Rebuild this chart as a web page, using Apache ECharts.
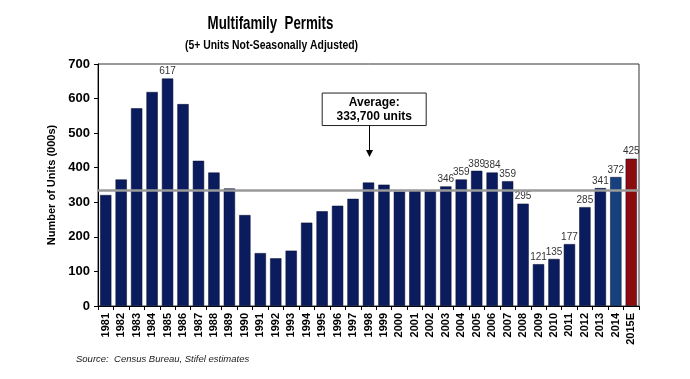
<!DOCTYPE html>
<html>
<head>
<meta charset="utf-8">
<script src="https://cdn.jsdelivr.net/npm/echarts@6/dist/echarts.min.js"></script>
<style>html,body{margin:0;padding:0;background:#fff;}#c{width:690px;height:379px;}</style>
</head>
<body>
<div id="c"></div>
<script>
const categories = ['1981','1982','1983','1984','1985','1986','1987','1988','1989','1990','1991','1992','1993','1994','1995','1996','1997','1998','1999','2000','2001','2002','2003','2004','2005','2006','2007','2008','2009','2010','2011','2012','2013','2014','2015E'];
const permits = [321,366,572,619,658,584,420,386,340,263,153,138,160,241,274,290,310,357,351,331,335,332,346,366,391,386,361,296,121,136,179,286,341,373,426];
const barLabels = [null,null,null,null,'617',null,null,null,null,null,null,null,null,null,null,null,null,null,null,null,null,null,'346','359','389','384','359','295','121','135','177','285','341','372','425'];
const averageValue = 333.7;
const yTicks = [0,100,200,300,400,500,600,700];
const titleText = 'Multifamily  Permits';
const subtitleText = '(5+ Units Not-Seasonally Adjusted)';
const sourceText = 'Source:  Census Bureau, Stifel estimates';
const annotationText = 'Average:\n333,700 units';

const FONT = "'Liberation Sans', Arial, sans-serif";
const NAVY = '#0b1c5e';
const LIGHT = '#17407e';
const RED = '#8a0c0c';

const chart = echarts.init(document.getElementById('c'), null, {renderer: 'canvas'});

const data = permits.map((v, i) => ({
  value: v,
  itemStyle: {color: i === permits.length - 1 ? RED : (i === permits.length - 2 ? LIGHT : NAVY)},
  label: {show: barLabels[i] != null, formatter: () => barLabels[i]}
}));

chart.setOption({
  animation: false,
  grid: {left: 98, right: 51, top: 64, bottom: 73, show: true, borderColor: '#333', borderWidth: 1, backgroundColor: 'transparent'},
  xAxis: {
    type: 'category', data: categories,
    axisLine: {lineStyle: {color: '#000', width: 1}},
    axisTick: {show: true, length: 4, lineStyle: {color: '#000'}},
    axisLabel: {rotate: 90, fontFamily: FONT, fontWeight: 'bold', fontSize: 11, color: '#000', margin: 7, interval: 0}
  },
  yAxis: {
    type: 'value', min: 0, max: 700, interval: 100,
    name: 'Number of Units (000s)', nameLocation: 'middle', nameGap: 34, nameRotate: 90,
    nameTextStyle: {fontFamily: FONT, fontWeight: 'bold', fontSize: 11, color: '#000'},
    axisLine: {show: true, lineStyle: {color: '#000'}},
    axisTick: {show: true, length: 4, lineStyle: {color: '#000'}},
    splitLine: {show: false},
    axisLabel: {fontFamily: FONT, fontWeight: 'bold', fontSize: 13, color: '#000', margin: 8,
      formatter: v => yTicks.includes(v) ? String(v) : ''}
  },
  series: [{
    type: 'bar', data: data, barCategoryGap: '27%',
    itemStyle: {borderColor: '#050d30', borderWidth: 0.5},
    label: {position: 'top', distance: 2, fontFamily: FONT, fontSize: 10, color: '#333'},
    markLine: {
      silent: true, symbol: ['none', 'none'], label: {show: false},
      lineStyle: {color: '#9a9a9a', width: 2.5, type: 'solid'},
      data: [{yAxis: averageValue}]
    },
    z: 2
  }]
});

function drawAnnotation() {
  const tip = chart.convertToPixel({gridIndex: 0}, ['1998', 431]);
  const boxBottom = chart.convertToPixel({gridIndex: 0}, ['1998', 522]);
  const boxTop = chart.convertToPixel({gridIndex: 0}, ['1998', 616]);
  const ax = tip[0] + 1;
  const bw = 104, bh = boxBottom[1] - boxTop[1];
  const bx = ax + 4.7 - bw / 2;
  chart.setOption({
    graphic: [
      {type: 'text', x: 270.5, y: 24, scaleX: 0.72, z: 10,
       style: {text: titleText, align: 'center', verticalAlign: 'middle',
               font: "bold 18.5px 'Liberation Sans', Arial, sans-serif", fill: '#000'}},
      {type: 'text', x: 271.5, y: 45.5, scaleX: 0.8, z: 10,
       style: {text: subtitleText, align: 'center', verticalAlign: 'middle',
               font: "bold 13px 'Liberation Sans', Arial, sans-serif", fill: '#000'}},
      {type: 'rect', shape: {x: bx, y: boxTop[1], width: bw, height: bh},
       style: {fill: '#fff', stroke: '#222', lineWidth: 1}, z: 10},
      {type: 'text', x: bx + bw / 2, y: boxTop[1] + bh / 2, z: 11,
       style: {text: annotationText, align: 'center', verticalAlign: 'middle',
               font: "bold 12px 'Liberation Sans', Arial, sans-serif", fill: '#000', lineHeight: 14}},
      {type: 'line', shape: {x1: ax, y1: boxBottom[1], x2: ax, y2: tip[1] - 6},
       style: {stroke: '#000', lineWidth: 1}, z: 10},
      {type: 'polygon', shape: {points: [[ax - 3.5, tip[1] - 7], [ax + 3.5, tip[1] - 7], [ax, tip[1]]]},
       style: {fill: '#000'}, z: 10},
      {type: 'text', x: 76, y: 359, z: 10,
       style: {text: sourceText, verticalAlign: 'middle',
               font: "italic 9.5px 'Liberation Sans', Arial, sans-serif", fill: '#222'}}
    ]
  });
}
drawAnnotation();
</script>
</body>
</html>
